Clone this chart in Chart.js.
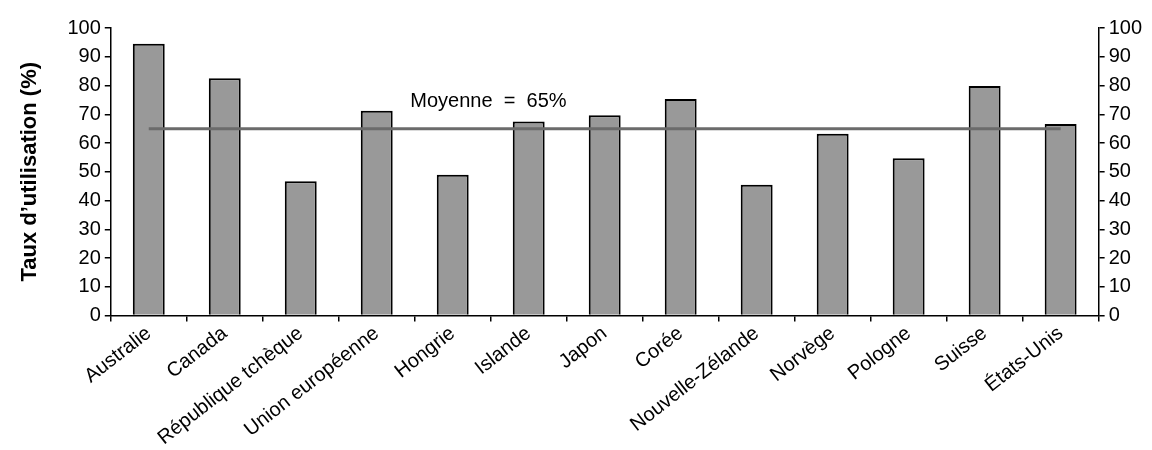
<!DOCTYPE html>
<html>
<head>
<meta charset="utf-8">
<script src="https://cdn.jsdelivr.net/npm/chart.js@4"></script>
<style>
  html, body { margin: 0; padding: 0; background: #fff; }
  #wrap { width: 1152px; height: 450px; }
</style>
</head>
<body>
<div id="wrap"><canvas id="usage"></canvas></div>
<script>
// Taux d'utilisation by country, with the overall average drawn across the bars.
const countries = ['Australie', 'Canada', 'République tchèque', 'Union européenne', 'Hongrie', 'Islande',
  'Japon', 'Corée', 'Nouvelle-Zélande', 'Norvège', 'Pologne', 'Suisse', 'États-Unis'];
const usageRates = [94.5, 82.5, 46.7, 71.2, 49, 67.5, 69.7, 75.3, 45.5, 63.2, 54.7, 79.8, 66.6];
const averageRate = 65;
const averageLabel = 'Moyenne = 65%';
const yTicks = [0, 10, 20, 30, 40, 50, 60, 70, 80, 90, 100];

const FONT = "'Liberation Sans', Arial, sans-serif";
Chart.defaults.font.family = FONT;
Chart.defaults.color = '#000';

// average line spans from the first to the last bar centre
const averageLine = countries.map(() => averageRate);

// writes the "Moyenne" caption above the average line
const avgCaption = {
  id: 'avgCaption',
  afterDatasetsDraw(chart) {
    const { ctx, scales } = chart;
    const x = scales.x.getPixelForValue(4.47);
    const y = scales.y.getPixelForValue(74.3);
    ctx.save();
    ctx.font = `20px ${FONT}`;
    ctx.fillStyle = '#000';
    ctx.textAlign = 'center';
    ctx.textBaseline = 'middle';
    ctx.fillText(averageLabel.replace(' = ', '  =  '), x, y);
    ctx.restore();
  },
};

const axisY = (position) => ({
  position,
  min: 0,
  max: 100,
  afterBuildTicks: (axis) => { axis.ticks = yTicks.map((v) => ({ value: v })); },
  border: { color: '#000', width: 1.5 },
  grid: { drawOnChartArea: false, color: '#000', tickLength: 6, lineWidth: 1.5 },
  ticks: { font: { size: 20 }, padding: 4 },
});

new Chart(document.getElementById('usage'), {
  data: {
    labels: countries,
    datasets: [
      {
        type: 'line',
        data: averageLine,
        borderColor: '#6b6b6b',
        borderWidth: 3,
        pointRadius: 0,
        order: 0,
      },
      {
        type: 'bar',
        data: usageRates,
        backgroundColor: '#999999',
        borderColor: '#000',
        borderWidth: 2,
        barPercentage: 0.42,
        categoryPercentage: 1,
        order: 1,
      },
    ],
  },
  options: {
    responsive: true,
    maintainAspectRatio: false,
    animation: false,
    layout: { padding: { top: 28, right: 6, left: 13, bottom: 0 } },
    plugins: { legend: { display: false }, tooltip: { enabled: false } },
    scales: {
      x: {
        offset: true,
        border: { color: '#000', width: 1.5 },
        grid: { offset: true, drawOnChartArea: false, color: '#000', tickLength: 6, lineWidth: 1.5 },
        ticks: { font: { size: 20 }, minRotation: 38, maxRotation: 38, padding: 0 },
      },
      y: {
        ...axisY('left'),
        title: { display: true, text: 'Taux d’utilisation (%)', font: { size: 22, weight: 'bold' }, padding: { bottom: 20 } },
      },
      y2: axisY('right'),
    },
  },
  plugins: [avgCaption],
});
</script>
</body>
</html>
